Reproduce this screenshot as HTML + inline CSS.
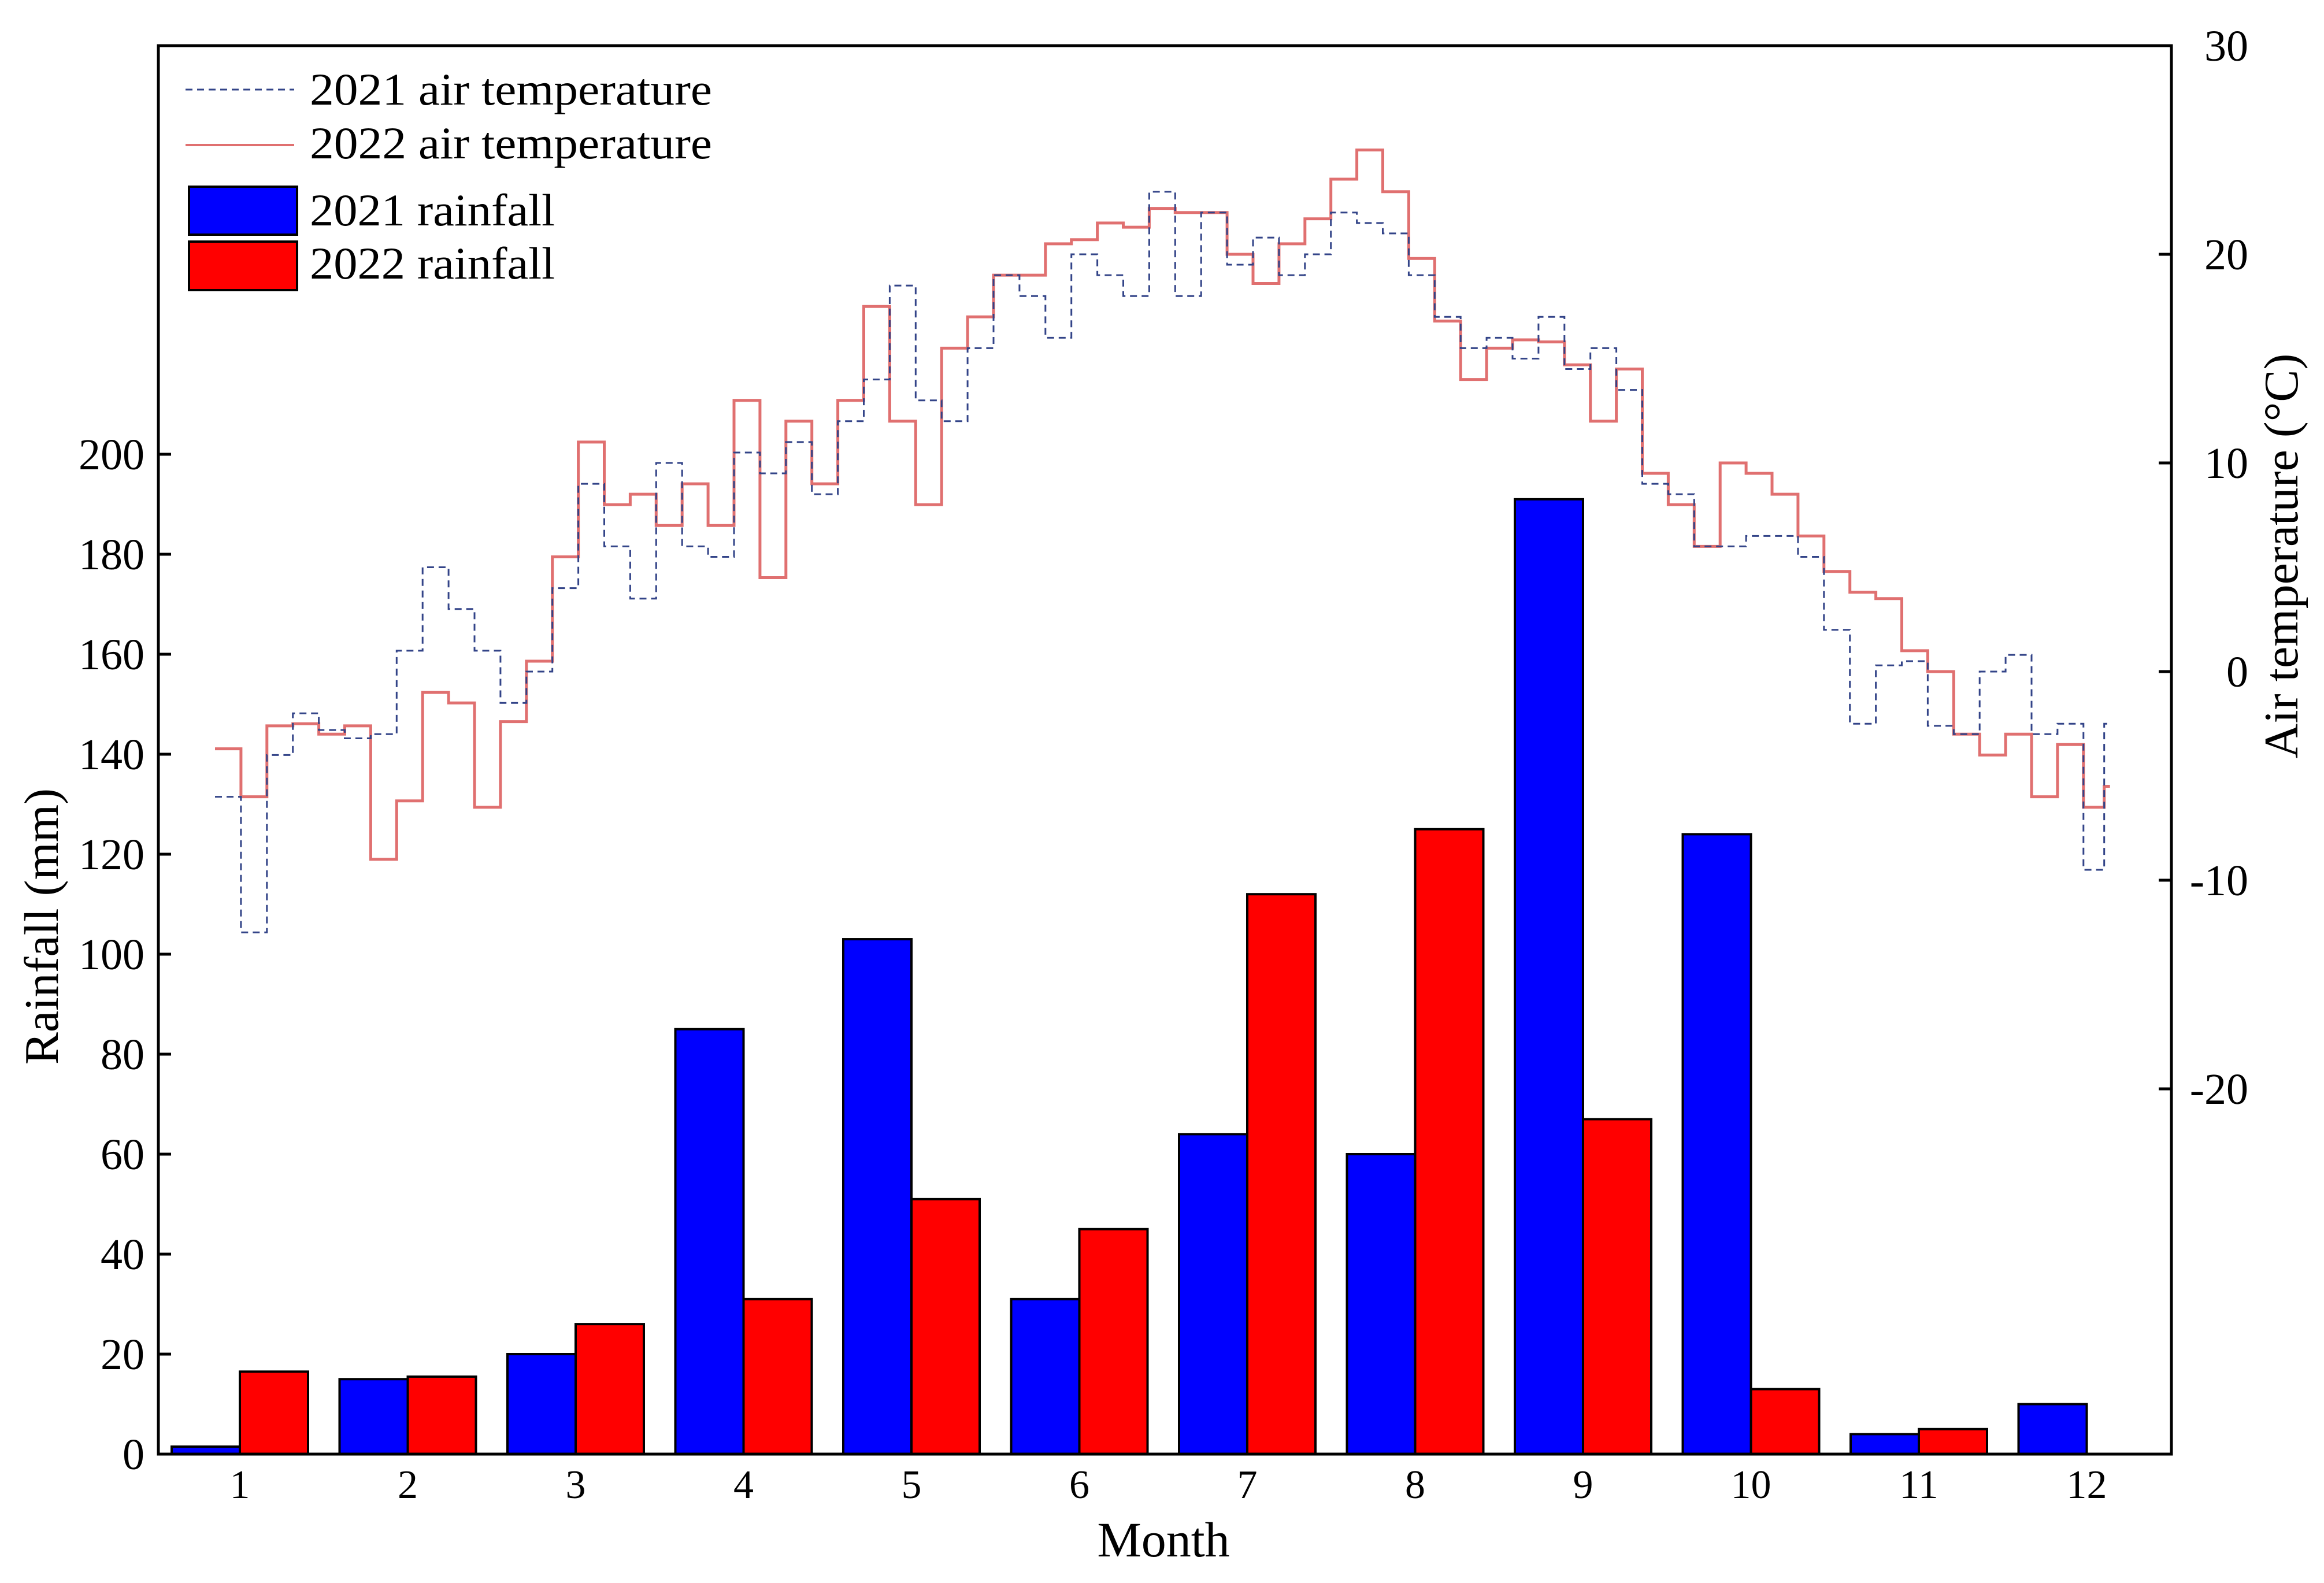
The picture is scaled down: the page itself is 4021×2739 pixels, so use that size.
<!DOCTYPE html>
<html><head><meta charset="utf-8"><style>
html,body{margin:0;padding:0;background:#fff;}
svg{display:block;font-family:"Liberation Serif",serif;}
</style></head><body>
<svg id="chart" width="4021" height="2739" viewBox="0 0 4021 2739" xmlns="http://www.w3.org/2000/svg">
<rect x="0" y="0" width="4021" height="2739" fill="#fff"/>
<g id="bars"></g>
<g id="lines"></g>
<rect x="274" y="79" width="3483" height="2437" fill="none" stroke="#000" stroke-width="5"/>
<g id="axes"></g>
<text transform="translate(100,1603) rotate(-90)" text-anchor="middle" font-size="84">Rainfall (mm)</text>
<text transform="translate(3975,962) rotate(-90)" text-anchor="middle" font-size="84">Air temperature (°C)</text>
<text x="2013" y="2693" text-anchor="middle" font-size="86">Month</text>
<g>
<line x1="321" y1="155" x2="509" y2="155" stroke="#334488" stroke-width="3" stroke-dasharray="12,8"/>
<text x="536" y="181" font-size="78" textLength="696" lengthAdjust="spacingAndGlyphs">2021 air temperature</text>
<line x1="321" y1="251" x2="509" y2="251" stroke="#e07070" stroke-width="4"/>
<text x="536" y="274" font-size="78" textLength="696" lengthAdjust="spacingAndGlyphs">2022 air temperature</text>
<rect x="327" y="323" width="187" height="83" fill="#0000ff" stroke="#000" stroke-width="4"/>
<text x="536" y="390" font-size="78" textLength="424" lengthAdjust="spacingAndGlyphs">2021 rainfall</text>
<rect x="327" y="418" width="187" height="84" fill="#ff0000" stroke="#000" stroke-width="4"/>
<text x="536" y="482" font-size="78" textLength="424" lengthAdjust="spacingAndGlyphs">2022 rainfall</text>
</g>
</svg>
<script>
const months = [1,2,3,4,5,6,7,8,9,10,11,12];
const rain2021 = [1.5,15,20,85,103,31,64,60,191,124,4,10];
const rain2022 = [16.5,15.5,26,31,51,45,112,125,67,13,5,0];
const rainTicks = [0,20,40,60,80,100,120,140,160,180,200];
const tempTicks = [-20,-10,0,10,20,30];
const temp2021 = [-6,-12.5,-4,-2,-2.8,-3.2,-3,1,5,3,1,-1.5,0,4,9,6,3.5,10,6,5.5,10.5,9.5,11,8.5,12,14,18.5,13,12,15.5,19,18,16,20,19,18,23,18,22,19.5,20.8,19,20,22,21.5,21,19,17,15.5,16,15,17,14.5,15.5,13.5,9,8.5,6,6,6.5,6.5,5.5,2,-2.5,0.3,0.5,-2.6,-3,0,0.8,-3,-2.5,-9.5,-2.5];
const temp2022 = [-3.7,-6,-2.6,-2.5,-3,-2.6,-9,-6.2,-1,-1.5,-6.5,-2.4,0.5,5.5,11,8,8.5,7,9,7,13,4.5,12,9,13,17.5,12,8,15.5,17,19,19,20.5,20.7,21.5,21.3,22.2,22,22,20,18.6,20.5,21.7,23.6,25,23,19.8,16.8,14,15.5,15.9,15.8,14.7,12,14.5,9.5,8,6,10,9.5,8.5,6.5,4.8,3.8,3.5,1,0,-3,-4,-3,-6,-3.5,-6.5,-5.5];

const NS = 'http://www.w3.org/2000/svg';
const xMonth = m => 415 + (m - 1) * 290.5;
const yRain = v => 2516 - v * 8.65;
const yTemp = t => 1162 - t * 36.1;
const xDay = d => 372 + (d - 1) * 8.98;
const dayOf = i => Math.min(1 + i * 5, 365);
const BW = 118;

function mk(tag, attrs, parent) {
  const el = document.createElementNS(NS, tag);
  for (const k in attrs) el.setAttribute(k, attrs[k]);
  parent.appendChild(el);
  return el;
}
const bars = document.getElementById('bars');
months.forEach((m, i) => {
  const xc = xMonth(m);
  const b = mk('rect', {x: xc - BW, y: yRain(rain2021[i]), width: BW, height: yRain(0) - yRain(rain2021[i]), fill: '#0000ff', stroke: '#000', 'stroke-width': 4}, bars);
  
  
  if (rain2022[i] > 0) {
    const r = mk('rect', {x: xc, y: yRain(rain2022[i]), width: BW, height: yRain(0) - yRain(rain2022[i]), fill: '#ff0000', stroke: '#000', 'stroke-width': 4}, bars);
    
    
  }
});

function stepPath(arr) {
  let d = '';
  arr.forEach((t, i) => {
    const x0 = xDay(dayOf(i)), y = yTemp(t);
    const x1 = i < arr.length - 1 ? xDay(dayOf(i + 1)) : x0 + 10;
    d += (i === 0 ? 'M' : 'L') + x0.toFixed(1) + ',' + y.toFixed(1) + 'L' + x1.toFixed(1) + ',' + y.toFixed(1);
  });
  return d;
}
const lines = document.getElementById('lines');
const l22 = mk('path', {d: stepPath(temp2022), fill: 'none', stroke: '#e07070', 'stroke-width': 5}, lines);


const l21 = mk('path', {d: stepPath(temp2021), fill: 'none', stroke: '#334488', 'stroke-width': 3, 'stroke-dasharray': '12,8'}, lines);



const axes = document.getElementById('axes');
rainTicks.forEach(v => {
  const y = yRain(v);
  const t = mk('line', {x1: 274, y1: y, x2: 296, y2: y, stroke: '#000', 'stroke-width': 5}, axes);
  
  
  const lb = mk('text', {x: 250, y: y + 26, 'text-anchor': 'end', 'font-size': 76}, axes);
  lb.textContent = v;
  
  
});
tempTicks.forEach(v => {
  const y = yTemp(v);
  const t = mk('line', {x1: 3735, y1: y, x2: 3757, y2: y, stroke: '#000', 'stroke-width': 5}, axes);
  
  
  const lb = mk('text', {x: 3890, y: y + 26, 'text-anchor': 'end', 'font-size': 76}, axes);
  lb.textContent = v;
  
  
});
months.forEach(m => {
  const lb = mk('text', {x: xMonth(m), y: 2592, 'text-anchor': 'middle', 'font-size': 70}, axes);
  lb.textContent = m;
  
  
});
</script>
</body></html>
